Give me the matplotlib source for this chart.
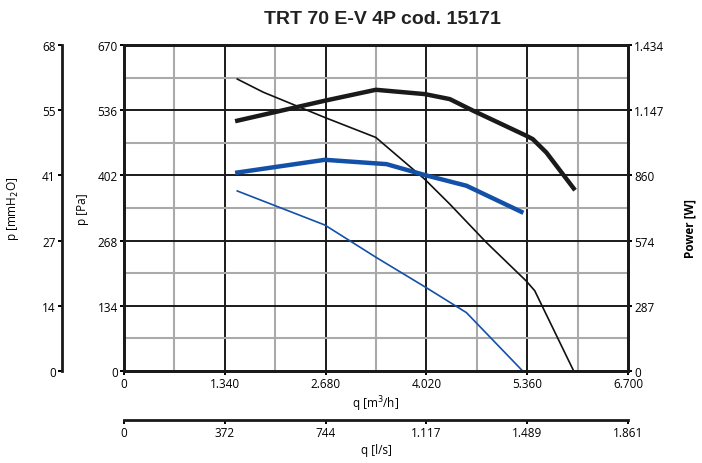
import numpy as np
import matplotlib.pyplot as plt
from matplotlib.ticker import MultipleLocator

plt.rcParams['font.family'] = ['Open Sans', 'DejaVu Sans']

# pressure curves [Pa] vs flow [m3/h]
q_p_high = [1506, 1851, 2670, 3348, 3999, 4331, 4818, 5347, 5460, 5978]
p_high = [600, 573, 521, 480, 394, 343, 264, 185, 165, 0]
q_p_low = [1506, 2670, 3357, 4021, 4552, 5300]
p_low = [370, 300, 233, 171, 120, 0]

# power curves [W] vs flow [m3/h]
q_w_high = [1506, 2670, 3348, 3999, 4331, 4641, 5347, 5434, 5615, 5978]
w_high = [1101, 1189, 1237, 1218, 1196, 1145, 1035, 1020, 961, 803]
q_w_low = [1506, 2670, 3489, 3999, 4552, 5283]
w_low = [873, 929, 910, 862, 815, 700]

q_ticks = [0, 1340, 2680, 4020, 5360, 6700]
q_labels = ['0', '1.340', '2.680', '4.020', '5.360', '6.700']
p_ticks = [0, 134, 268, 402, 536, 670]
mm_labels = ['0', '14', '27', '41', '55', '68']
w_ticks = [0, 287, 574, 860, 1147, 1434]
w_labels = ['0', '287', '574', '860', '1.147', '1.434']
ls_labels = ['0', '372', '744', '1.117', '1.489', '1.861']

blue = '#1350a8'
fs = 8.5
fig = plt.figure(figsize=(7.02, 4.64), dpi=100)
ax = fig.add_axes([124/702, 1-372/464, 504/702, 326/464])

ax.plot(q_p_high, p_high, color='#111111', lw=1.2, zorder=5)
ax.plot(q_p_low, p_low, color=blue, lw=1.2, zorder=5)

ax.set_xlim(0, 6700)
ax.set_ylim(0, 670)
ax.set_xticks(q_ticks)
ax.set_xticklabels(q_labels)
ax.set_yticks(p_ticks)
ax.xaxis.set_minor_locator(MultipleLocator(670))
ax.yaxis.set_minor_locator(MultipleLocator(67))
ax.grid(which='minor', color='#aaaaaa', lw=1.5)
ax.grid(which='major', color='#1a1a1a', lw=1.4)
ax.set_axisbelow(True)
ax.tick_params(which='minor', length=0)
ax.tick_params(which='major', direction='out', length=3, width=1.4, labelsize=fs, pad=1.5)
for s in ax.spines.values():
    s.set_linewidth(2)
    s.set_color('#1a1a1a')
ax.set_xlabel('q [m$^3$/h]', fontsize=fs, labelpad=2)
ax.set_ylabel('p [Pa]', fontsize=fs, labelpad=6)

# power axis
ax2 = ax.twinx()
ax2.plot(q_w_high, w_high, color='#1a1a1a', lw=3.2, zorder=5)
ax2.plot(q_w_low, w_low, color=blue, lw=3.2, zorder=5)
ax2.set_ylim(0, 1434)
ax2.set_yticks(w_ticks)
ax2.set_yticklabels(w_labels)
ax2.tick_params(direction='out', length=3, width=1.4, labelsize=fs, pad=1.5)
for s in ax2.spines.values():
    s.set_linewidth(2)
    s.set_color('#1a1a1a')
fig.text(690/702, 1-228/464, 'Power [W]', rotation=90, ha='center', va='center',
         fontsize=fs, fontweight='bold')

# mmH2O axis
ax3 = ax.twinx()
ax3.set_ylim(0, 670)
ax3.spines['left'].set_position(('outward', 44.6))
ax3.spines['left'].set_linewidth(2)
ax3.spines['left'].set_color('#1a1a1a')
for k in ['right', 'top', 'bottom']:
    ax3.spines[k].set_visible(False)
ax3.yaxis.set_ticks_position('left')
ax3.yaxis.set_label_position('left')
ax3.set_yticks(p_ticks)
ax3.set_yticklabels(mm_labels)
ax3.tick_params(direction='out', length=3, width=1.4, labelsize=fs, pad=1.5)
ax3.set_ylabel('p [mmH$_2$O]', fontsize=fs, labelpad=15)

# l/s axis
ax4 = ax.twiny()
ax4.set_xlim(0, 6700)
ax4.spines['bottom'].set_position(('outward', 35.3))
ax4.spines['bottom'].set_linewidth(2)
ax4.spines['bottom'].set_color('#1a1a1a')
for k in ['left', 'right', 'top']:
    ax4.spines[k].set_visible(False)
ax4.xaxis.set_ticks_position('bottom')
ax4.xaxis.set_label_position('bottom')
ax4.set_xticks(q_ticks)
ax4.set_xticklabels(ls_labels)
ax4.tick_params(direction='out', length=3, width=1.4, labelsize=fs, pad=1.5)
ax4.set_xlabel('q [l/s]', fontsize=fs, labelpad=3)

fig.text(0.545, 0.958, 'TRT 70 E-V 4P cod. 15171', ha='center', va='center',
         fontsize=14, fontweight='bold', family=['Liberation Sans', 'DejaVu Sans'], color='#222222')

fig.savefig('out.png', dpi=100)
